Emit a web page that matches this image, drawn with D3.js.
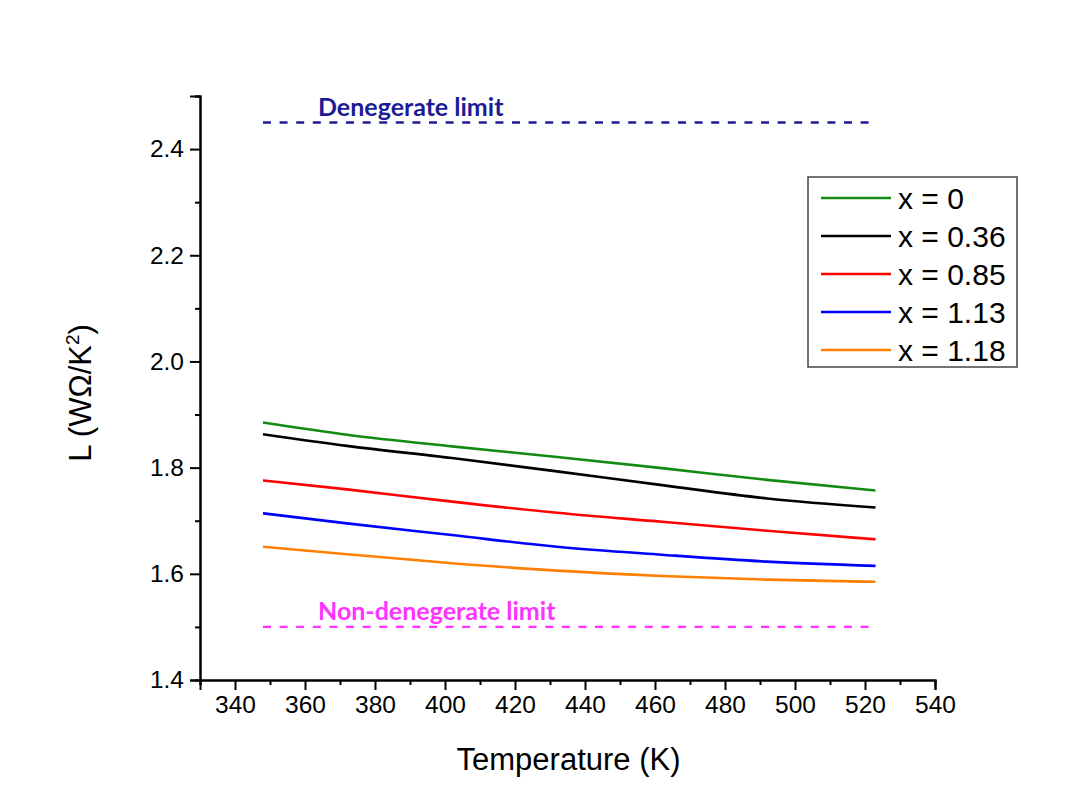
<!DOCTYPE html>
<html>
<head>
<meta charset="utf-8">
<script src="https://cdn.jsdelivr.net/npm/d3@7"></script>
<style>
  html, body { margin: 0; padding: 0; background: #ffffff; }
  svg { display: block; }
</style>
</head>
<body>
<svg id="chart" width="1073" height="811"></svg>
<script>
// Temperature samples (K)
const temperatures = [348, 372, 402, 432, 462, 492, 523];

// Lorenz number L (WΩ/K²) for each composition
const seriesNames = ["x = 0", "x = 0.36", "x = 0.85", "x = 1.13", "x = 1.18"];
const seriesColors = ["#138a13", "#000000", "#ff0000", "#0000ff", "#ff8000"];
const L_x0    = [1.885, 1.862, 1.840, 1.820, 1.799, 1.777, 1.757];
const L_x036  = [1.863, 1.841, 1.818, 1.793, 1.767, 1.742, 1.725];
const L_x085  = [1.776, 1.759, 1.736, 1.715, 1.698, 1.681, 1.665];
const L_x113  = [1.714, 1.695, 1.673, 1.651, 1.636, 1.623, 1.615];
const L_x118  = [1.651, 1.637, 1.620, 1.606, 1.596, 1.589, 1.585];
const seriesValues = [L_x0, L_x036, L_x085, L_x113, L_x118];

// Theoretical limits
const limitNames = ["Denegerate limit", "Non-denegerate limit"];
const limitValues = [2.45, 1.50];
const limitColors = ["#1c1c96", "#ff33ff"];
const limitRange = [348, 523];

// Axis ticks
const xTicks = [340, 360, 380, 400, 420, 440, 460, 480, 500, 520, 540];
const yTicks = [1.4, 1.6, 1.8, 2.0, 2.2, 2.4];

const svg = d3.select("#chart");
const x = d3.scaleLinear().domain([330, 540]).range([200, 935]);
const y = d3.scaleLinear().domain([1.4, 2.5]).range([680, 96]);

const tickFont = "'Liberation Sans', Arial, sans-serif";

// Minor ticks
const xMinor = d3.range(330, 541, 10).filter(v => !xTicks.includes(v));
const yMinor = d3.range(14, 26, 1).map(v => v / 10).filter(v => !yTicks.some(t => Math.abs(t - v) < 1e-9));

const xAxisG = svg.append("g").attr("transform", `translate(0,${y(1.4)})`);
xAxisG.call(d3.axisBottom(x).tickValues(xMinor).tickSize(5).tickFormat(""));
xAxisG.call(g => g.append("g").call(d3.axisBottom(x).tickValues(xTicks).tickSize(10).tickPadding(6).tickFormat(d3.format("d"))));

const yAxisG = svg.append("g").attr("transform", `translate(${x(330)},0)`);
yAxisG.call(d3.axisLeft(y).tickValues(yMinor).tickSize(5).tickFormat(""));
yAxisG.call(g => g.append("g").call(d3.axisLeft(y).tickValues(yTicks).tickSize(10).tickPadding(6).tickFormat(d3.format(".1f"))));

svg.selectAll(".domain").attr("stroke", "#000").attr("stroke-width", 2);
svg.selectAll(".tick line").attr("stroke", "#000").attr("stroke-width", 2);
svg.selectAll(".tick text").attr("font-family", tickFont).attr("font-size", 24.5).attr("fill", "#000");

// Axis titles
svg.append("text")
  .attr("x", (x(330) + x(540)) / 2 + 1)
  .attr("y", 770)
  .attr("text-anchor", "middle")
  .attr("font-family", tickFont)
  .attr("font-size", 31)
  .text("Temperature (K)");

const yTitle = svg.append("text")
  .attr("transform", `translate(91,${393}) rotate(-90)`)
  .attr("text-anchor", "middle")
  .attr("font-family", tickFont)
  .attr("font-size", 31);
yTitle.append("tspan").text("L (WΩ/K");
yTitle.append("tspan").attr("font-size", 19).attr("dy", -12).text("2");
yTitle.append("tspan").attr("dy", 12).text(")");

// Limit lines with labels
limitValues.forEach((v, i) => {
  svg.append("line")
    .attr("x1", x(limitRange[0])).attr("x2", x(limitRange[1]))
    .attr("y1", y(v)).attr("y2", y(v))
    .attr("stroke", limitColors[i])
    .attr("stroke-width", 2.4)
    .attr("stroke-dasharray", "8,8.6");
  svg.append("text")
    .attr("x", 318)
    .attr("y", y(v) - 7)
    .attr("font-family", "Lato, 'Open Sans', sans-serif")
    .attr("font-weight", "bold")
    .attr("font-size", 25)
    .attr("fill", limitColors[i])
    .text(limitNames[i]);
});

// Data curves
const line = d3.line()
  .x((d, i) => x(temperatures[i]))
  .y(d => y(d))
  .curve(d3.curveMonotoneX);

svg.append("g").selectAll("path")
  .data(seriesValues)
  .join("path")
  .attr("d", d => line(d))
  .attr("fill", "none")
  .attr("stroke", (d, i) => seriesColors[i])
  .attr("stroke-width", 2.6);

// Legend
const legend = svg.append("g");
legend.append("rect")
  .attr("x", 808).attr("y", 177)
  .attr("width", 209).attr("height", 190)
  .attr("fill", "#fff")
  .attr("stroke", "#444")
  .attr("stroke-width", 1.5);
seriesNames.forEach((name, i) => {
  const cy = 198 + i * 38;
  legend.append("line")
    .attr("x1", 821).attr("x2", 891)
    .attr("y1", cy).attr("y2", cy)
    .attr("stroke", seriesColors[i])
    .attr("stroke-width", 2.6);
  legend.append("text")
    .attr("x", 898).attr("y", cy + 10.5)
    .attr("font-family", tickFont)
    .attr("font-size", 30)
    .text(name);
});
</script>
</body>
</html>
